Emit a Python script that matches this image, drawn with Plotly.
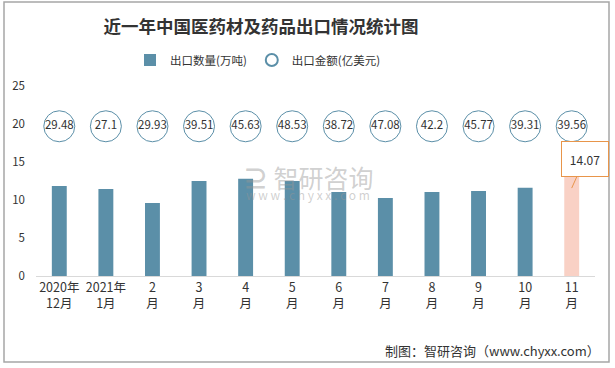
import plotly.graph_objects as go

categories = ["2020年<br>12月", "2021年<br>1月", "2<br>月", "3<br>月", "4<br>月", "5<br>月",
              "6<br>月", "7<br>月", "8<br>月", "9<br>月", "10<br>月", "11<br>月"]
export_volume = [11.85, 11.45, 9.6, 12.5, 12.8, 12.5, 11.05, 10.25, 11.05, 11.2, 11.6, 14.07]
export_value = [29.48, 27.1, 29.93, 39.51, 45.63, 48.53, 38.72, 47.08, 42.2, 45.77, 39.31, 39.56]
value_labels = ["29.48", "27.1", "29.93", "39.51", "45.63", "48.53", "38.72", "47.08", "42.2", "45.77", "39.31", "39.56"]
circle_row = 19.7  # fixed row on which the value circles sit
y_ticks = [0, 5, 10, 15, 20, 25]

bar_colors = ["#5b8fa8"] * (len(categories) - 1) + ["#f9d1c5"]
FONT = "Noto Sans CJK SC"

L, R, T, B = 36, 595, 86, 276
W, H = 615, 368


def px_x(p):
    return (p - L) / (R - L)


def px_y(p):
    return (B - p) / (B - T)


fig = go.Figure()
fig.add_trace(go.Bar(
    x=categories, y=export_volume, name="出口数量(万吨)",
    marker=dict(color=bar_colors, line=dict(width=0)),
    width=0.32,
))
fig.add_trace(go.Scatter(
    x=categories, y=[circle_row] * len(categories), name="出口金额(亿美元)",
    mode="markers+text", text=value_labels, textposition="middle center",
    textfont=dict(size=11.5, color="#333333", family=FONT),
    marker=dict(symbol="circle", size=31, color="white",
                line=dict(color="#5b8fa8", width=1)),
    customdata=export_value,
))

# callout for the last month
fig.add_annotation(
    x=categories[-1], y=export_volume[-1], xref="x", yref="y",
    text=f"{export_volume[-1]:.2f}", showarrow=True, arrowhead=0,
    arrowcolor="#e8954a", arrowwidth=1, ax=13, ay=-29, yshift=-19,
    width=32, height=20,
    bgcolor="white", bordercolor="#e8954a", borderwidth=1, borderpad=7,
    font=dict(size=12, color="#333333", family=FONT),
)

# watermark
fig.add_annotation(x=px_x(308), y=px_y(177), xref="paper", yref="paper",
                   text="<b>⊇</b> 智研咨询", showarrow=False,
                   font=dict(size=25, color="rgba(150,150,150,0.45)", family=FONT))
fig.add_annotation(x=px_x(308), y=px_y(194), xref="paper", yref="paper",
                   text="w w w . c h y x x . c o m", showarrow=False,
                   font=dict(size=12, color="rgba(150,150,150,0.45)", family=FONT))

# source
fig.add_annotation(x=px_x(602), y=px_y(350), xref="paper", yref="paper",
                   text="制图：智研咨询（www.chyxx.com）",
                   showarrow=False, xanchor="right", yanchor="middle",
                   font=dict(size=13, color="#333333", family=FONT))

fig.update_layout(
    width=W, height=H,
    margin=dict(l=L, r=W - R, t=T, b=H - B, autoexpand=False),
    paper_bgcolor="white", plot_bgcolor="white",
    title=dict(text="<b>近一年中国医药材及药品出口情况统计图</b>", x=261 / W, xanchor="center",
               y=1 - 27 / H, yanchor="middle", xref="container", yref="container",
               font=dict(size=17.5, color="#333333", family=FONT)),
    legend=dict(orientation="h", xref="container", yref="container",
                x=258 / W, xanchor="center", y=1 - 60 / H, yanchor="middle",
                font=dict(size=11.5, color="#333333", family=FONT),
                itemsizing="constant", itemwidth=30,
                bgcolor="rgba(0,0,0,0)"),
    showlegend=True,
    shapes=[dict(type="rect", xref="paper", yref="paper",
                 x0=px_x(4), x1=px_x(609), y0=px_y(362), y1=px_y(2),
                 line=dict(color="#a6a6a6", width=1.5), layer="below")],
)
fig.update_xaxes(range=[-0.5, len(categories) - 0.5], autorange=False,
                 showline=True, linecolor="#d9d9d9", linewidth=1, ticks="",
                 tickangle=0, automargin=False,
                 tickfont=dict(size=12.5, color="#333333", family=FONT), showgrid=False)
fig.update_yaxes(range=[0, 25], tickvals=y_ticks, showgrid=False, zeroline=False,
                 showline=False, automargin=False,
                 tickfont=dict(size=11.5, color="#333333", family=FONT),
                 ticklabelstandoff=10)

fig.write_html("out.html", config={"displayModeBar": False},
               post_script="document.body.style.margin='0';")
